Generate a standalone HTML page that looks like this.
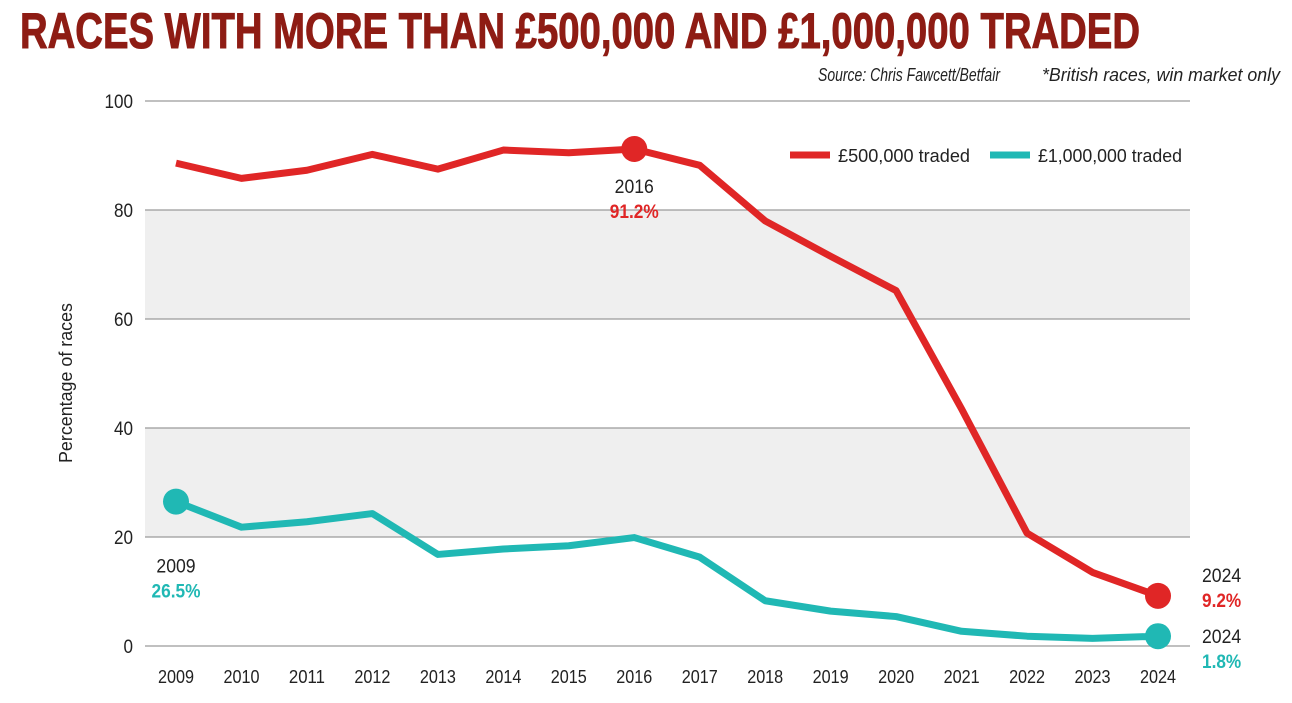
<!DOCTYPE html>
<html><head><meta charset="utf-8"><style>
html,body{margin:0;padding:0;background:#fff;}
svg{display:block;font-family:"Liberation Sans",sans-serif;}
</style></head><body>
<svg id="chart" width="1292" height="703">
<text x="20" y="48" font-size="50" font-weight="bold" fill="#8e1c14" stroke="#8e1c14" stroke-width="1" textLength="1120" lengthAdjust="spacingAndGlyphs">RACES WITH MORE THAN £500,000 AND £1,000,000 TRADED</text>
<text x="818" y="81" font-size="18" font-style="italic" fill="#222" textLength="182" lengthAdjust="spacingAndGlyphs">Source: Chris Fawcett/Betfair</text>
<text x="1042" y="81" font-size="18" font-style="italic" fill="#222" textLength="238" lengthAdjust="spacingAndGlyphs">*British races, win market only</text>
<g id="bands"></g><g id="grid"></g><g id="xticks"></g>
<text transform="translate(72,383) rotate(-90)" text-anchor="middle" font-size="18" fill="#222" textLength="160" lengthAdjust="spacingAndGlyphs">Percentage of races</text>
<g id="series"></g>
<g>
<line x1="790" y1="155" x2="830" y2="155" stroke="#e02626" stroke-width="7"/>
<text x="838" y="162" font-size="18" fill="#222" textLength="132" lengthAdjust="spacingAndGlyphs">£500,000 traded</text>
<line x1="990" y1="155" x2="1030" y2="155" stroke="#20b8b4" stroke-width="7"/>
<text x="1038" y="162" font-size="18" fill="#222" textLength="144" lengthAdjust="spacingAndGlyphs">£1,000,000 traded</text>
</g>
<g id="annot"></g>
</svg>
<script>
const years=[2009,2010,2011,2012,2013,2014,2015,2016,2017,2018,2019,2020,2021,2022,2023,2024];
const red=[88.6,85.8,87.3,90.2,87.5,91.0,90.5,91.2,88.2,78.0,71.5,65.2,43.5,20.7,13.5,9.2];
const teal=[26.5,21.8,22.8,24.3,16.8,17.8,18.4,19.9,16.3,8.3,6.4,5.4,2.7,1.8,1.4,1.8];
const yTicks=[0,20,40,60,80,100];
const NS="http://www.w3.org/2000/svg";
const X=i=>176+i*(1158-176)/(years.length-1);
const Y=v=>646-v*5.45;
function mk(t,a,p){const e=document.createElementNS(NS,t);for(const k in a)e.setAttribute(k,a[k]);p.appendChild(e);return e;}
const bands=document.getElementById('bands');
[[20,40],[60,80]].forEach(b=>{const r=mk('rect',{x:145,y:Y(b[1]),width:1045,height:Y(b[0])-Y(b[1]),fill:'#efefef'},bands);

});
const grid=document.getElementById('grid');
yTicks.forEach(v=>{const l=mk('line',{x1:145,x2:1190,y1:Y(v),y2:Y(v),stroke:'#9a9a9a','stroke-width':1.3},grid);


const s=String(v);
const t=mk('text',{x:133,y:Y(v)+7,'text-anchor':'end','font-size':19,fill:'#222',textLength:s.length*9.5,lengthAdjust:'spacingAndGlyphs'},grid);t.textContent=s;

});
const xt=document.getElementById('xticks');
years.forEach((y,i)=>{const t=mk('text',{x:X(i),y:683,'text-anchor':'middle','font-size':18,fill:'#222',textLength:36,lengthAdjust:'spacingAndGlyphs'},xt);t.textContent=y;

});
const s=document.getElementById('series');
[[red,'#e02626','line-500k'],[teal,'#20b8b4','line-1m']].forEach(([d,c,n])=>{
const p=mk('polyline',{points:d.map((v,i)=>X(i)+','+Y(v)).join(' '),fill:'none',stroke:c,'stroke-width':7,'stroke-linejoin':'round'},s);

});
function dot(i,v,c){const e=mk('circle',{cx:X(i),cy:Y(v),r:13,fill:c},s);

}
dot(7,red[7],'#e02626');dot(15,red[15],'#e02626');dot(0,teal[0],'#20b8b4');dot(15,teal[15],'#20b8b4');
const an=document.getElementById('annot');
function lab(x,y,txt,c,b,anchor){const t=mk('text',{x:x,y:y,'font-size':19,fill:c,'font-weight':b?'bold':'normal','text-anchor':anchor||'start',textLength:txt.length*9.8,lengthAdjust:'spacingAndGlyphs'},an);t.textContent=txt;

}
lab(X(7),Y(red[7])+44,String(years[7]),'#222',0,'middle');lab(X(7),Y(red[7])+69,red[7].toFixed(1)+'%','#e02626',1,'middle');
lab(X(0),Y(teal[0])+71,String(years[0]),'#222',0,'middle');lab(X(0),Y(teal[0])+96,teal[0].toFixed(1)+'%','#20b8b4',1,'middle');
lab(1202,Y(red[15])-14,String(years[15]),'#222',0);lab(1202,Y(red[15])+11,red[15].toFixed(1)+'%','#e02626',1);
lab(1202,Y(teal[15])+7,String(years[15]),'#222',0);lab(1202,Y(teal[15])+32,teal[15].toFixed(1)+'%','#20b8b4',1);
</script>
</body></html>
